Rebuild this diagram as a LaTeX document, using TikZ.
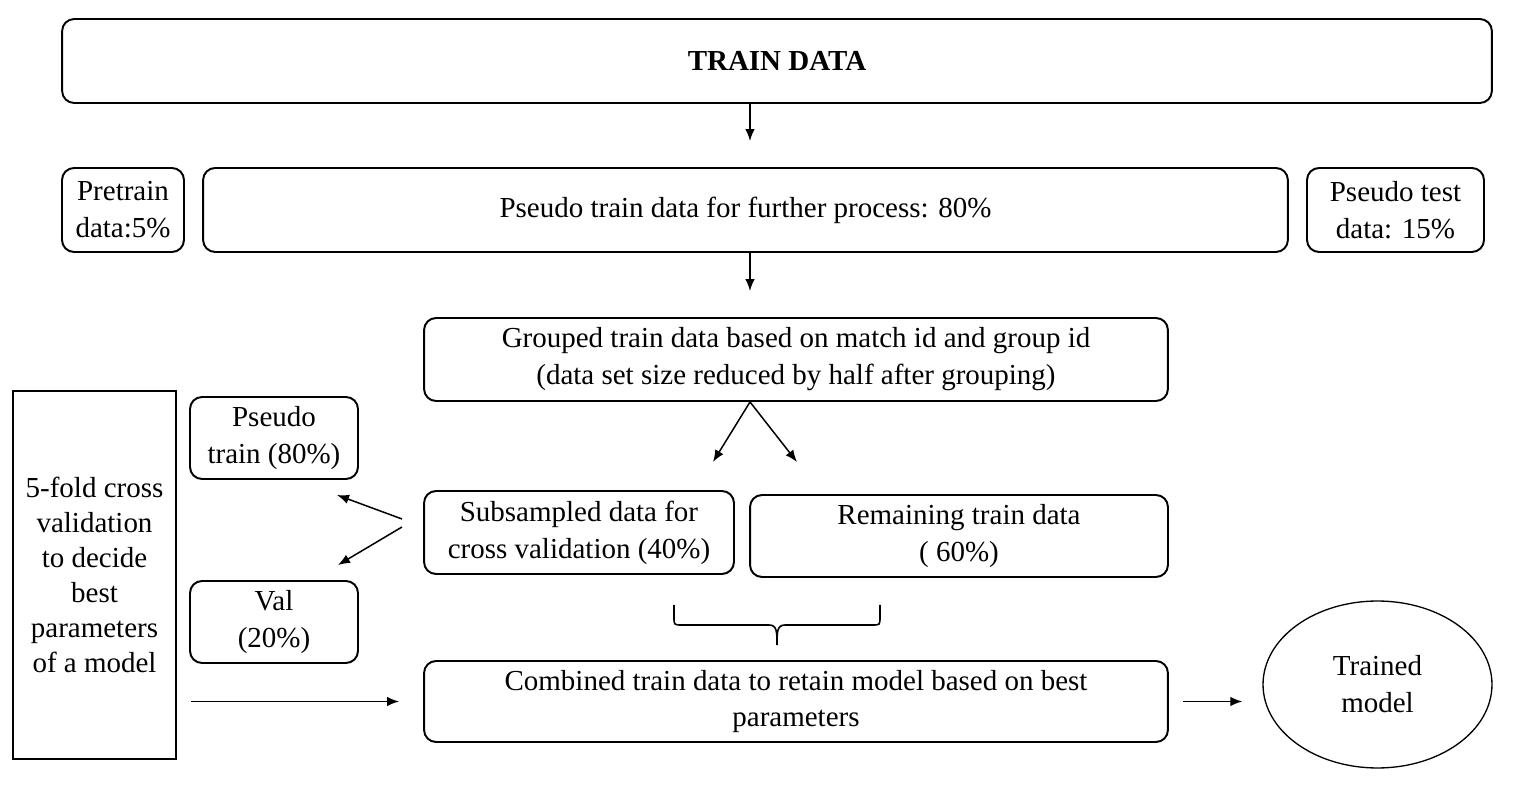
\documentclass[tikz,border=0pt]{standalone}
\usepackage{fontspec}
\setmainfont{Liberation Serif}
\usepackage{tikz}
\usetikzlibrary{
	arrows.meta, 
	positioning, 
	shapes.geometric
}

\begin{document}
\begin{tikzpicture}[x=0.02cm, y=-0.02cm,
	box/.style={draw, line width=1.1pt, rounded corners=0.24cm, align=center, inner sep=0pt, font=\fontsize{16.5}{21}\selectfont},
	arr/.style={-{Latex[length=0.24cm,width=0.19cm]}, line width=0.85pt}]
	\useasboundingbox (0,0) rectangle (1526,790);
	
	% 最上面的框
	\node[box, minimum width=28.6cm, minimum height=1.68cm, font=\fontsize{16.5}{21}\selectfont\bfseries] (train) at (777,61) {TRAIN DATA};
	
	% 圆角框：名称/x/y/宽/高/文字
	\foreach \nm/\x/\y/\w/\h/\t in {
		pre/123/210/2.44/1.68/{Pretrain\\data:5\%},
		pseudo/745.5/210/21.7/1.68/{Pseudo train data for further process: 80\%},
		ptest/1395.5/210/3.54/1.68/{Pseudo test\\data: 15\%},
		grouped/796/359.5/14.88/1.66/{Grouped train data based on match id and group id\\(data set size reduced by half after grouping)},
		ptrain/274/438/3.36/1.64/{Pseudo\\train (80\%)},
		val/274/622/3.36/1.64/{Val\\(20\%)},
		sub/579/532.5/6.2/1.66/{Subsampled data for\\cross validation (40\%)},
		remain/959/536/8.36/1.64/{Remaining train data\\( 60\%)},
		comb/796/701.5/14.88/1.62/{Combined train data to retain model based on best\\parameters}}
	\node[box, minimum width=\w cm, minimum height=\h cm] (\nm) at (\x,\y) {\t};
	
	% 左边的直角框和右边的椭圆
	\node[box, sharp corners, minimum width=3.26cm, minimum height=7.36cm, font=\fontsize{16.5}{20}\selectfont] (fold) at (94.5,575) {5-fold cross\\validation\\to decide\\best\\parameters\\of a model};
	\node[draw, ellipse, line width=0.75pt, minimum width=4.58cm, minimum height=3.34cm, inner sep=0pt, align=center, font=\fontsize{16.5}{21}\selectfont] (model) at (1377.5,684.5) {Trained\\model};
	
	% 竖直箭头
	\coordinate (cx) at (750,0);
	\draw[arr, shorten >=0.52cm] (train.south -| cx) -- (pseudo.north -| cx);
	\draw[arr, shorten >=0.52cm] (pseudo.south -| cx) -- (grouped.north -| cx);
	
	% 分叉的箭头
	\coordinate (gl) at (713,462);
	\coordinate (gr) at (797,462);
	\foreach \p in {gl,gr}
	\draw[arr] (grouped.south -| cx) -- (\p);
	\coordinate (s1) at (402,519);
	\coordinate (s2) at (402,527);
	\coordinate (p1) at (337,495);
	\coordinate (v1) at (338,565);
	\draw[arr] (s1) -- (p1);
	\draw[arr] (s2) -- (v1);
	
	% 大括号
	\draw[line width=0.9pt] (674,605) -- (674,617) .. controls (674,625) .. (682,625) -- (769,625) .. controls (777,625) and (777,632) .. (777,645) .. controls (777,632) and (777,625) .. (785,625) -- (872,625) .. controls (880,625) .. (880,617) -- (880,605);
	
	% 水平箭头
	\draw[arr, shorten <=0.28cm, shorten >=0.48cm] (fold.east |- comb.west) -- (comb.west);
	\draw[arr, shorten <=0.28cm, shorten >=0.4cm] (comb.east) -- (comb.east -| model.west);
\end{tikzpicture}
\end{document}
